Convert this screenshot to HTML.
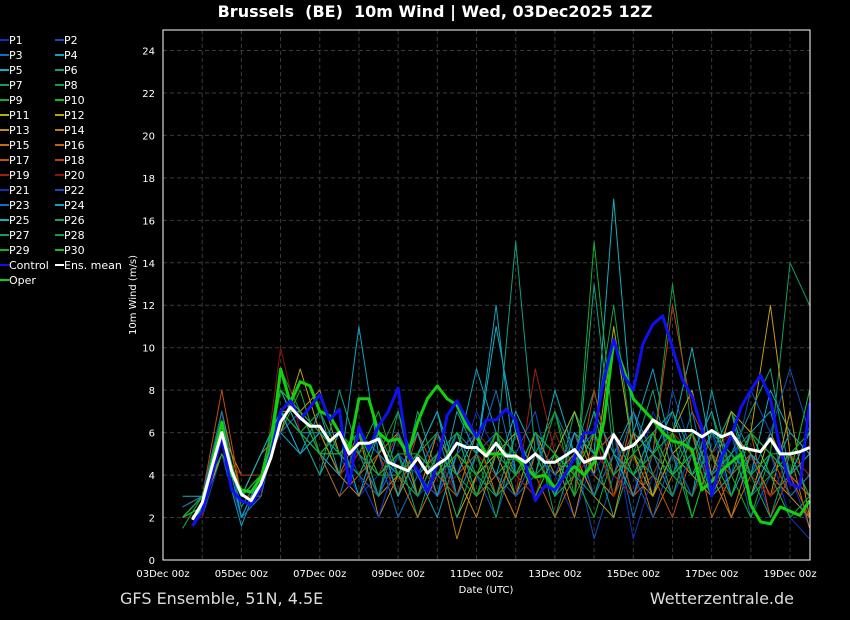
<!DOCTYPE html>
<html><head><meta charset="utf-8"><style>
html,body{margin:0;padding:0;background:#000;}
svg{display:block;font-family:"DejaVu Sans","Liberation Sans",sans-serif;}
</style></head><body>
<svg id="c" width="850" height="620" viewBox="0 0 850 620">
<rect width="850" height="620" fill="#000"/>
<text x="435" y="17" fill="#fff" font-size="16" font-weight="bold" text-anchor="middle" style="white-space:pre">Brussels  (BE)  10m Wind | Wed, 03Dec2025 12Z</text>
<text x="120" y="604" fill="#ddd" font-size="16">GFS Ensemble, 51N, 4.5E</text>
<text x="794" y="604" fill="#ddd" font-size="16" text-anchor="end">Wetterzentrale.de</text>
<text x="486" y="593" fill="#fff" font-size="10" text-anchor="middle">Date (UTC)</text>
<text transform="translate(136,295) rotate(-90)" fill="#fff" font-size="10" text-anchor="middle">10m Wind (m/s)</text>
<g id="grid"></g><g id="members"></g><g id="main"></g><g id="axes"></g><g id="legend"></g>
</svg>
<script>
const xTickLabels=["03Dec 00z","05Dec 00z","07Dec 00z","09Dec 00z","11Dec 00z","13Dec 00z","15Dec 00z","17Dec 00z","19Dec 00z"];
const yTicks=[0,2,4,6,8,10,12,14,16,18,20,22,24];
const ensMean=[1.9,2.7,4.4,6.0,4.2,3.1,2.8,3.6,4.8,6.5,7.2,6.7,6.3,6.3,5.6,6.0,5.0,5.5,5.5,5.7,4.6,4.4,4.2,4.8,4.1,4.5,4.8,5.5,5.3,5.3,4.9,5.5,4.9,4.9,4.6,5.0,4.6,4.6,4.9,5.2,4.6,4.8,4.8,5.9,5.2,5.4,5.9,6.6,6.3,6.1,6.1,6.1,5.8,6.1,5.8,6.0,5.3,5.2,5.1,5.7,5.0,5.0,5.1,5.3];
const control=[1.6,2.3,4.0,5.8,3.3,2.8,2.6,3.4,5.0,7.0,7.5,6.6,7.2,7.8,6.6,7.1,3.5,6.3,5.2,6.3,7.0,8.1,5.0,4.2,3.2,4.5,6.8,7.5,6.6,5.8,6.6,6.6,7.1,6.6,4.5,2.8,3.5,3.3,4.0,4.8,6.0,6.0,8.5,10.4,8.7,8.0,10.2,11.1,11.5,10.0,8.5,7.7,6.2,3.0,4.8,5.8,7.2,8.0,8.7,7.6,5.2,3.6,3.4,7.4];
const oper=[2.0,2.4,4.6,6.5,4.0,3.3,3.2,3.9,5.2,9.0,7.4,8.4,8.2,7.0,6.8,6.0,5.2,7.6,7.6,6.0,5.6,5.7,5.0,6.5,7.6,8.2,7.6,7.3,6.3,5.8,5.0,5.0,5.0,4.8,4.4,3.9,4.0,3.4,4.0,4.4,4.0,4.6,6.5,10.3,9.0,7.6,7.1,6.6,6.0,5.6,5.5,5.2,3.3,3.7,4.2,4.6,5.0,2.6,1.8,1.7,2.5,2.3,2.1,2.8];
const p1=[2,3,6,3,4,7,6,6,5,3,4,6,3,5,4,7,5,3,6,4,2,5,6,3,7,5,4,6,3,5,2,4,1.5];
const p2=[2,2,5,2,4,8,7,5,6,4,2,5,4,3,6,4,2,5,7,3,5,1,4,6,3,8,5,4,6,2,4,3,2];
const p3=[2.5,3,7,2,3,7,6,5,3,6,5,2,4,6,3,5,6,3,4,7,5,3,6,2,5,4,7,3,5,6,4,2,3];
const p4=[2,2.5,5,1.6,4,6,5,7,4,5,3,6,4,2,5,9,6,4,3,5,7,4,3,6,9,5,3,8,4,6,7,4,5];
const p5=[3,3,6,3,5,7,6,4,6,3,6,4,5,7,3,5,11,6,4,8,5,3,5,7,4,6,10,5,7,4,8,6,5];
const p6=[1.5,3,6,2.5,4,8,6,7,5,4,6,3,7,4,6,3,5,15,5,3,7,5,2,5,8,4,6,3,5,7,9,4,6];
const p7=[2,3,5,2,4,7,5,6,4,6,3,5,2,5,4,6,3,4,6,2,5,8,4,6,3,5,2,5,7,3,5,14,12];
const p8=[2,2,6,3,3,9,7,5,5,4,5,7,3,4,6,5,2,6,4,7,3,5,6,3,5,13,6,4,7,5,3,4,8];
const p9=[2,3,7,3,5,6,8,5,6,5,4,4,6,3,5,4,6,3,5,7,4,2,5,4,6,3,5,7,4,2,5,3,4];
const p10=[2,2.5,5,3,3,8,6,6,4,5,6,3,5,6,3,6,4,5,3,6,4,7,3,5,4,6,2,5,3,6,4,5,3];
const p11=[2,3,6,3,4,7,6,5,5,4,3,6,4,5,2,4,5,6,3,5,7,4,11,5,3,6,8,4,5,3,6,4,3];
const p12=[2,2.5,5,3,4,6,9,6,4,5,3,4,6,3,5,6,4,2,5,4,6,3,5,4,3,5,6,4,7,6,12,5,4];
const p13=[2.5,3,6,3,3,7,7,8,5,6,2,4,3,6,4,2,5,3,6,4,5,3,2,6,3,5,4,3,6,5,3,7,2];
const p14=[2,3,6,4,4,8,7,6,4,3,5,6,3,5,1,4,6,4,3,5,2,6,4,3,5,3,6,4,2,5,4,3,2];
const p15=[2,3,7,3,4,7,6,5,6,5,3,4,2,4,5,3,4,2,5,3,6,4,3,5,2,4,3,5,2,4,3,5,1.5];
const p16=[2,3,5,3,5,6,7,5,3,4,6,3,5,4,3,6,3,5,4,2,4,6,3,7,5,3,6,2,4,5,3,4,3];
const p17=[2,3,8,3,4,7,6,5,4,6,4,5,3,5,4,5,3,4,5,3,4,5,6,3,4,2,5,3,4,6,2,4,2];
const p18=[2,2.5,6,3,4,8,6,6,5,4,5,3,6,4,5,4,6,5,4,5,3,8,4,6,5,12,7,5,4,6,5,3,4];
const p19=[2,3,5,4,4,7,6,7,5,5,4,6,4,5,3,5,4,3,9,5,4,6,3,5,4,6,5,4,3,5,4,6,5];
const p20=[2,2,6,3,3,10,6,5,4,5,6,4,5,3,4,6,5,4,3,6,4,5,4,3,5,4,3,5,6,4,3,5,4];
const p21=[2,3,5,2,4,7,5,6,5,4,2,5,3,4,6,3,5,4,6,3,5,4,6,1,4,3,5,4,6,3,5,2,1];
const p22=[2,2.5,6,3,4,6,7,5,5,4,3,5,4,3,5,6,4,3,5,4,6,3,5,4,2,5,3,6,4,8,6,9,6];
const p23=[2.5,3,7,2,3,7,6,6,6,5,3,6,4,6,3,5,8,4,6,3,5,6,4,7,5,3,6,4,5,4,6,3,4];
const p24=[2,3,6,2,4,8,6,5,4,11,5,4,6,3,7,5,12,4,6,5,4,7,5,3,6,4,5,7,3,5,4,6,5];
const p25=[2,3,6,3,5,7,5,6,5,4,6,3,5,7,4,6,4,7,5,3,6,5,17,6,5,7,4,6,5,3,5,4,6];
const p26=[2,2.5,6,3,4,7,6,4,8,5,4,5,3,5,6,4,3,6,4,5,3,13,5,4,6,7,5,3,4,6,5,4,5];
const p27=[2,3,6,3,4,8,7,6,5,6,3,7,4,5,2,5,3,4,6,5,4,3,6,4,5,4,3,6,5,4,2,5,3];
const p28=[1.5,3,6,3,4,7,6,7,5,4,6,4,3,5,4,3,6,4,5,3,4,6,12,5,4,3,6,4,5,3,4,2,3];
const p29=[2,3,5,3,4,7,6,5,6,5,7,4,5,4,6,3,5,4,6,5,3,15,6,4,5,6,4,5,3,6,5,4,8];
const p30=[2,2.5,6,3,4,8,7,5,5,6,4,5,5,4,5,4,6,5,3,5,4,6,4,5,6,4,5,3,6,4,5,5,6];
const members=[p1,p2,p3,p4,p5,p6,p7,p8,p9,p10,p11,p12,p13,p14,p15,p16,p17,p18,p19,p20,p21,p22,p23,p24,p25,p26,p27,p28,p29,p30];
const colors=["#1030c0","#1050c0","#1070c0","#10a0c0","#10b0c0","#10a080","#10a060","#10a040","#10b030","#10c020","#b0b010","#c0a010","#c09010","#c08010","#c07010","#c06010","#c05010","#c04010","#a02010","#901010"];
const NS="http://www.w3.org/2000/svg";
const X0=163,X1=810,Y0=560,YT=30,PXD=39.19,PXU=21.23;
function xs(d){return X0+d*PXD;}
function ys(v){return Y0-v*PXU;}
function mk(t,a,p){const e=document.createElementNS(NS,t);for(const k in a)e.setAttribute(k,a[k]);p.appendChild(e);return e;}
const grid=document.getElementById('grid'),axes=document.getElementById('axes');
yTicks.forEach((v,i)=>{
  if(v>0){const g=mk('line',{x1:X0,x2:X1,y1:ys(v),y2:ys(v),stroke:'#3a3a3a','stroke-dasharray':'4,3'},grid);
  
  }
  const t=mk('text',{x:X0-8,y:ys(v)+4,fill:'#fff','font-size':10,'text-anchor':'end'},axes);t.textContent=v;
  
  
});
for(let d=1;d<=16;d++){
  const g=mk('line',{x1:xs(d),x2:xs(d),y1:YT,y2:Y0,stroke:'#3a3a3a','stroke-dasharray':'4,3'},grid);
  
  
}
xTickLabels.forEach((s,i)=>{
  const t=mk('text',{x:xs(i*2),y:Y0+17,fill:'#fff','font-size':10,'text-anchor':'middle'},axes);t.textContent=s;
  
  
});
const fr=mk('rect',{x:X0,y:YT,width:X1-X0,height:Y0-YT,fill:'none',stroke:'#fff','stroke-width':1},axes);


function line(arr,start,step,color,w,parent,name){
  const pts=arr.map((v,i)=>xs(start+i*step).toFixed(1)+','+ys(v).toFixed(1)).join(' ');
  const p=mk('polyline',{points:pts,fill:'none',stroke:color,'stroke-width':w,'stroke-linejoin':'round'},parent);
  
  
}
const mg=document.getElementById('members'),main=document.getElementById('main');
members.forEach((m,i)=>line(m,0.5,0.5,colors[i%20],1,mg,'member-p'+(i+1)));
line(oper,0.75,0.25,'#10d010',3,main,'oper-line');
line(control,0.75,0.25,'#1010f0',3,main,'control-line');
line(ensMean,0.75,0.25,'#ffffff',3,main,'ens-mean-line');
const lg=document.getElementById('legend');
const labels=[];for(let i=1;i<=30;i++)labels.push(['P'+i,colors[(i-1)%20]]);
labels.push(['Control','#1010f0'],['Ens. mean','#ffffff'],['Oper','#10d010']);
labels.forEach((l,i)=>{
  const col=i%2,row=Math.floor(i/2);const x=col?55:0,y=40+row*15;
  const ln=mk('line',{x1:x,x2:x+9,y1:y,y2:y,stroke:l[1],'stroke-width':2},lg);
  
  
  const t=mk('text',{x:x+9,y:y+4,fill:'#fff','font-size':11},lg);t.textContent=l[0];
  
  
});
</script>
</body></html>
